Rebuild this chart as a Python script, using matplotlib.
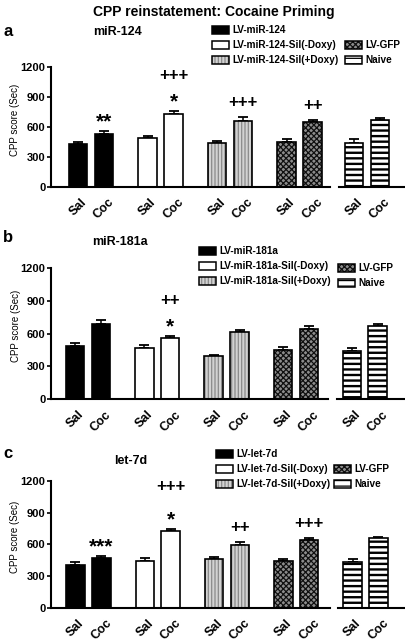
import numpy as np
import matplotlib
matplotlib.use("Agg")
import matplotlib.pyplot as plt
from matplotlib.patches import Patch

plt.rcParams["font.family"] = ["Liberation Sans", "DejaVu Sans"]
plt.rcParams["hatch.linewidth"] = 0.9

W, H = 405, 642

# ---- data (CPP score, sec; mean and SEM) ----
conditions = ["Sal", "Coc"]

mir124_sal = [424, 487, 434, 450]
mir124_coc = [530, 730, 657, 644]
mir124_sal_sem = [22, 23, 23, 25]
mir124_coc_sem = [24, 30, 38, 24]
mir124_naive = [434, 667]
mir124_naive_sem = [40, 17]
mir124_marks = [["**"], ["*", "+++"], ["+++"], ["++"]]
mir124_labels = ["LV-miR-124", "LV-miR-124-Sil(-Doxy)", "LV-miR-124-Sil(+Doxy)"]

mir181_sal = [489, 468, 394, 452]
mir181_coc = [690, 560, 615, 645]
mir181_sal_sem = [22, 25, 12, 22]
mir181_coc_sem = [34, 18, 15, 22]
mir181_naive = [437, 667]
mir181_naive_sem = [34, 18]
mir181_marks = [[], ["*", "++"], [], []]
mir181_labels = ["LV-miR-181a", "LV-miR-181a-Sil(-Doxy)", "LV-miR-181a-Sil(+Doxy)"]

let7_sal = [406, 441, 460, 444]
let7_coc = [470, 726, 596, 637]
let7_sal_sem = [28, 26, 22, 19]
let7_coc_sem = [21, 22, 25, 22]
let7_naive = [432, 659]
let7_naive_sem = [31, 13]
let7_marks = [["***"], ["*", "+++"], ["++"], ["+++"]]
let7_labels = ["LV-let-7d", "LV-let-7d-Sil(-Doxy)", "LV-let-7d-Sil(+Doxy)"]

control_labels = ["LV-GFP", "Naive"]

# ---- styles: face, hatch, hatch colour ----
STYLES = [
    ("black", None, "black"),
    ("white", None, "black"),
    ("#d2d2d2", "|||||", "#8a8a8a"),
    ("#8c8c8c", "xxxxxx", "#101010"),
    ("white", "---", "black"),
]
BAR_W = 0.265
OFF = 0.187


def draw_bars(ax, x, heights, sem, style):
    face, hatch, hcol = style
    b = ax.bar(x, heights, BAR_W, color=face, edgecolor=hcol, hatch=hatch, linewidth=0, zorder=2)
    if hatch == "---":
        for p in b:
            if hasattr(p, "set_hatch_linewidth"):
                p.set_hatch_linewidth(1.7)
    ax.bar(x, heights, BAR_W, fill=False, edgecolor="black", linewidth=1.2, zorder=3)
    ax.errorbar(x, heights, yerr=[np.zeros(len(sem)), sem], fmt="none", ecolor="black",
                elinewidth=1.1, capsize=3.8, capthick=1.3, zorder=1)


def legend_handle(style):
    face, hatch, hcol = style
    return (Patch(facecolor=face, edgecolor=hcol, hatch=hatch, linewidth=0),
            Patch(fill=False, edgecolor="black", linewidth=1.1))


def px_axes(fig, left, right, top, bottom):
    return fig.add_axes([left / W, 1 - bottom / H, (right - left) / W, (bottom - top) / H])


fig = plt.figure(figsize=(W / 100, H / 100), dpi=100)
fig.text(214 / W, 1 - 12 / H, "CPP reinstatement: Cocaine Priming", ha="center", va="center",
         fontsize=10, fontweight="bold")

panels = [
    dict(letter="a", name="miR-124", sal=mir124_sal, coc=mir124_coc, sal_sem=mir124_sal_sem,
         coc_sem=mir124_coc_sem, naive=mir124_naive, naive_sem=mir124_naive_sem,
         marks=mir124_marks, labels=mir124_labels,
         main=(51, 330, 66.7, 186.7), xlim=(-0.576, 3.438),
         side=(339, 404), sxlim=(-0.406, 0.529),
         letter_y=32, name_xy=(118, 32), leg1=(212, 25), leg2=(345, 40), lvl=15),
    dict(letter="b", name="miR-181a", sal=mir181_sal, coc=mir181_coc, sal_sem=mir181_sal_sem,
         coc_sem=mir181_coc_sem, naive=mir181_naive, naive_sem=mir181_naive_sem,
         marks=mir181_marks, labels=mir181_labels,
         main=(51, 328, 268, 399), xlim=(-0.534, 3.463),
         side=(337, 404), sxlim=(-0.40, 0.567),
         letter_y=237, name_xy=(120, 242), leg1=(199, 246), leg2=(338, 263), lvl=15),
    dict(letter="c", name="let-7d", sal=let7_sal, coc=let7_coc, sal_sem=let7_sal_sem,
         coc_sem=let7_coc_sem, naive=let7_naive, naive_sem=let7_naive_sem,
         marks=let7_marks, labels=let7_labels,
         main=(51, 330, 481, 607.5), xlim=(-0.54, 3.486),
         side=(338, 404), sxlim=(-0.397, 0.555),
         letter_y=454, name_xy=(131, 461), leg1=(216, 449), leg2=(334, 464), lvl=20),
]

# vertical correction (points) so the glyph centre sits where intended
GLYPH_SHIFT = {"*": -4.5, "+": -0.7}
MARK_SIZE = {"*": 15, "+": 12}

for p in panels:
    l, r, t, b = p["main"]
    ax = px_axes(fig, l, r, t, b)
    groups = np.arange(len(p["sal"]))
    for g in groups:
        draw_bars(ax, [g - OFF, g + OFF], [p["sal"][g], p["coc"][g]],
                  [p["sal_sem"][g], p["coc_sem"][g]], STYLES[g])
        top = p["coc"][g] + p["coc_sem"][g]
        for lvl, m in enumerate(p["marks"][g]):
            off = 11 + lvl * p["lvl"] + GLYPH_SHIFT[m[0]]
            ax.annotate(m, (g + OFF, top), xytext=(0, off), textcoords="offset points",
                        ha="center", va="center", fontsize=MARK_SIZE[m[0]], fontweight="bold")
    ax.set_xlim(*p["xlim"])
    ax.set_ylim(0, 1200)
    ax.set_yticks(np.arange(0, 1201, 300), labels=[str(v) for v in range(0, 1201, 300)],
                  fontsize=8, fontweight="bold")
    xt = np.ravel([[g - OFF, g + OFF] for g in groups])
    ax.set_xticks(xt, labels=conditions * len(groups), rotation=45, fontsize=9, fontweight="bold")
    ax.tick_params(axis="x", length=0, pad=7)
    ax.tick_params(axis="y", length=3, width=1.2, pad=1)
    for s in ["top", "right"]:
        ax.spines[s].set_visible(False)
    for s in ["left", "bottom"]:
        ax.spines[s].set_linewidth(1.5)
    ax.set_ylabel("CPP score (Sec)", fontsize=7)
    ax.yaxis.set_label_coords(-0.11, 0.56)

    # naive panel
    sl, sr = p["side"]
    ax2 = px_axes(fig, sl, sr, t, b)
    draw_bars(ax2, [-OFF, OFF], p["naive"], p["naive_sem"], STYLES[4])
    ax2.set_xlim(*p["sxlim"])
    ax2.set_ylim(0, 1200)
    ax2.set_yticks([])
    ax2.set_xticks([-OFF, OFF], labels=conditions, rotation=45, fontsize=9, fontweight="bold")
    ax2.tick_params(axis="x", length=0, pad=7)
    for s in ["top", "right", "left"]:
        ax2.spines[s].set_visible(False)
    ax2.spines["bottom"].set_linewidth(1.5)

    fig.text(3 / W, 1 - p["letter_y"] / H, p["letter"], ha="left", va="center",
             fontsize=12, fontweight="bold")
    nx, ny = p["name_xy"]
    fig.text(nx / W, 1 - ny / H, p["name"], ha="center", va="center", fontsize=9, fontweight="bold")

    leg_kw = dict(loc="upper left", frameon=False, borderpad=0, borderaxespad=0,
                  handlelength=1.7, handleheight=0.85, handletextpad=0.3, labelspacing=0.5,
                  prop={"weight": "bold", "size": 7.2})
    x1, y1 = p["leg1"]
    fig.legend([legend_handle(STYLES[i]) for i in range(3)], p["labels"],
               bbox_to_anchor=(x1 / W, 1 - y1 / H), **leg_kw)
    x2, y2 = p["leg2"]
    fig.legend([legend_handle(STYLES[i]) for i in (3, 4)], control_labels,
               bbox_to_anchor=(x2 / W, 1 - y2 / H), **leg_kw)

fig.savefig("out.png", dpi=100)
